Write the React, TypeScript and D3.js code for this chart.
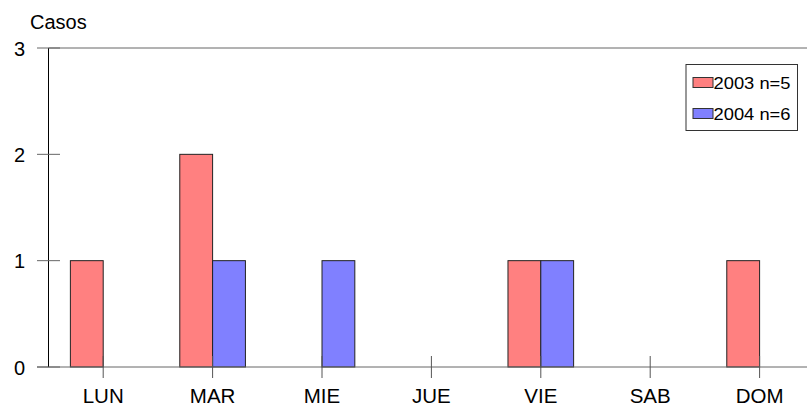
import * as d3 from "d3"

const days = ["LUN", "MAR", "MIE", "JUE", "VIE", "SAB", "DOM"]
const casos2003 = [1, 2, 0, 0, 1, 0, 1]
const casos2004 = [0, 1, 1, 0, 1, 0, 0]
const yTicks = [0, 1, 2, 3]
const series = [
  { label: "2003 n=5", values: casos2003, color: "#ff8080" },
  { label: "2004 n=6", values: casos2004, color: "#8080ff" },
]

const width = 807
const height = 407
const margin = { left: 48.5, top: 48, bottom: 367 }

export default function App() {
  // band scale runs past the right edge, like the original
  const x = d3
    .scaleBand()
    .domain(days)
    .range([margin.left, margin.left + 7 * 109.4])
    .padding(0)
  const y = d3.scaleLinear().domain([0, 3]).range([margin.bottom, margin.top])
  const barW = x.bandwidth() * 0.3
  const font = "Liberation Sans, Arial, sans-serif"

  return (
    <div style={{ position: "fixed", left: 0, top: 0 }}>
      <svg width={width} height={height} style={{ display: "block" }} fontFamily={font}>
        <rect width={width} height={height} fill="#fff" />

        {/* top frame line */}
        <line x1={margin.left} x2={width} y1={y(3)} y2={y(3)} stroke="#666" />

        {/* bars */}
        {series.map((s, si) =>
          days.map((d, i) => {
            const v = s.values[i]
            if (!v) return null
            const cx = x(d)! + x.bandwidth() / 2
            return (
              <rect
                key={s.label + d}
                x={cx - barW + si * barW}
                y={y(v)}
                width={barW}
                height={y(0) - y(v)}
                fill={s.color}
                stroke="#222"
                strokeWidth={1}
              />
            )
          }),
        )}

        {/* x axis */}
        <line x1={37} x2={width} y1={y(0)} y2={y(0)} stroke="#666" />
        {days.map((d) => {
          const cx = x(d)! + x.bandwidth() / 2
          return (
            <g key={d}>
              <line x1={cx} x2={cx} y1={y(0) - 11} y2={y(0) + 11} stroke="#555" />
              <text x={cx} y={403} textAnchor="middle" fontSize={20.5}>
                {d}
              </text>
            </g>
          )
        })}

        {/* y axis */}
        <line x1={margin.left} x2={margin.left} y1={y(3)} y2={y(0)} stroke="#000" />
        {yTicks.map((t) => (
          <g key={t}>
            <line x1={37} x2={60} y1={y(t)} y2={y(t)} stroke="#666" />
            <text x={25} y={y(t) + 7.5} textAnchor="end" fontSize={20}>
              {t}
            </text>
          </g>
        ))}
        <text x={30} y={29} fontSize={20}>
          Casos
        </text>

        {/* legend */}
        <rect x={686} y={64.5} width={111.5} height={66} fill="#fff" stroke="#333" />
        {series.map((s, i) => (
          <g key={s.label} transform={`translate(693,${77.5 + i * 31})`}>
            <rect width={20} height={10} fill={s.color} stroke="#333" />
            <text x={20.5} y={11} fontSize={17} textLength={77} lengthAdjust="spacingAndGlyphs">
              {s.label}
            </text>
          </g>
        ))}
      </svg>
    </div>
  )
}
